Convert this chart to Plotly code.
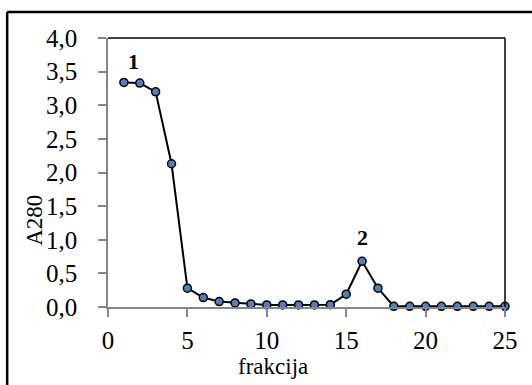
import plotly.graph_objects as go

fractions = list(range(1, 26))
a280 = [3.34, 3.33, 3.20, 2.13, 0.28, 0.14, 0.08, 0.06, 0.045, 0.03,
        0.03, 0.03, 0.03, 0.035, 0.19, 0.68, 0.28, 0.01, 0.01, 0.01,
        0.01, 0.01, 0.01, 0.01, 0.01]
x_ticks = [0, 5, 10, 15, 20, 25]
y_ticks = [0.0, 0.5, 1.0, 1.5, 2.0, 2.5, 3.0, 3.5, 4.0]
y_tick_labels = ["0,0", "0,5", "1,0", "1,5", "2,0", "2,5", "3,0", "3,5", "4,0"]
peak_labels = ["1", "2"]
peak_x = [1.6, 16]
peak_y = [3.65, 1.03]
x_title = "frakcija"
y_title = "A280"

FONT = "Times New Roman, Liberation Serif, DejaVu Serif, serif"
GRAY = "#868686"

fig = go.Figure()
fig.add_trace(go.Scatter(
    x=fractions, y=a280, mode="lines+markers",
    line=dict(color="black", width=2),
    marker=dict(size=8, color="#4F81BD", line=dict(color="black", width=1.5)),
    cliponaxis=False, showlegend=False,
))

for t, xx, yy in zip(peak_labels, peak_x, peak_y):
    fig.add_annotation(x=xx, y=yy, text="<b>%s</b>" % t, showarrow=False,
                       xanchor="center", yanchor="middle",
                       font=dict(family=FONT, size=22, color="black"))

# axis titles
fig.add_annotation(xref="paper", yref="paper", x=0.416, y=-0.22, text=x_title,
                   xanchor="center", yanchor="middle",
                   showarrow=False, font=dict(family=FONT, size=23, color="black"))
fig.add_annotation(xref="paper", yref="paper", x=-0.184, y=0.324, text=y_title,
                   xanchor="center", yanchor="middle",
                   textangle=-90, showarrow=False,
                   font=dict(family=FONT, size=23, color="black"))

# plot-area top/right border
fig.add_shape(type="line", xref="paper", yref="paper", x0=0, x1=1, y0=1, y1=1,
              line=dict(color="black", width=1.5))
fig.add_shape(type="line", xref="paper", yref="paper", x0=1, x1=1, y0=0, y1=1,
              line=dict(color="black", width=1.5))
# outer chart frame (left and top edges only visible)
fig.add_shape(type="line", xref="paper", yref="paper", x0=-0.254, x1=-0.254,
              y0=-0.35, y1=1.0966, line=dict(color="black", width=2.5))
fig.add_shape(type="line", xref="paper", yref="paper", x0=-0.254, x1=1.2,
              y0=1.0966, y1=1.0966, line=dict(color="black", width=2.5))

fig.update_layout(
    width=532, height=385,
    margin=dict(l=108, r=27, t=38, b=78),
    plot_bgcolor="white", paper_bgcolor="white",
    font=dict(family=FONT, color="black"),
    xaxis=dict(range=[0, 25], tickvals=x_ticks, showgrid=False, zeroline=False,
               showline=True, linecolor=GRAY, linewidth=1.5,
               ticks="outside", ticklen=8, tickcolor=GRAY, tickwidth=1.5,
               ticklabelstandoff=2,
               tickfont=dict(family=FONT, size=25, color="black")),
    yaxis=dict(range=[0, 4], tickvals=y_ticks, ticktext=y_tick_labels,
               showgrid=False, zeroline=False,
               showline=True, linecolor=GRAY, linewidth=1.5,
               ticks="outside", ticklen=8, tickcolor=GRAY, tickwidth=1.5,
               ticklabelstandoff=16,
               tickfont=dict(family=FONT, size=25, color="black")),
)

fig.write_html("out.html")
